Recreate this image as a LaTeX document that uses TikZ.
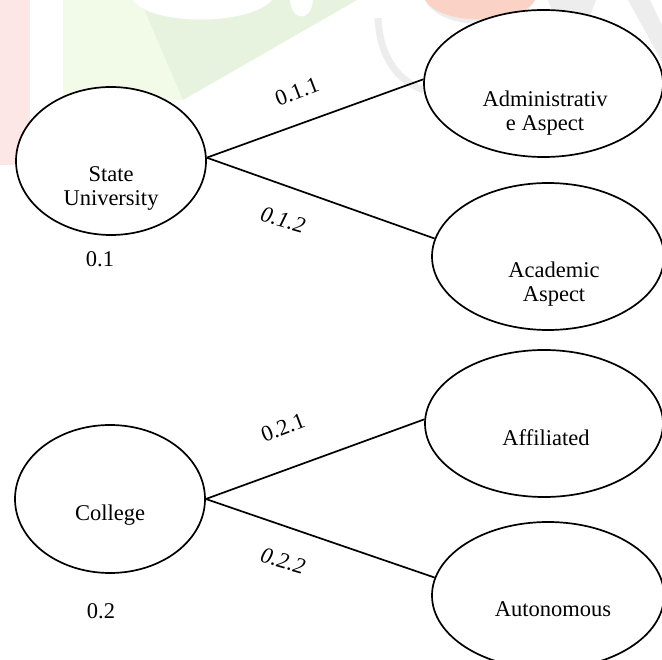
\documentclass[tikz,border=0pt]{standalone}
\usepackage{fontspec}
\setmainfont{Liberation Serif}
\usetikzlibrary{shapes.geometric}
\definecolor{wmpink}{HTML}{FDE6E6}
\definecolor{wmgreenA}{HTML}{F2FAE8}
\definecolor{wmgreenB}{HTML}{E8F3DF}
\definecolor{wmsalmon}{HTML}{FBD2C6}
\definecolor{wmgrey}{HTML}{EDEDED}
\begin{document}
\begin{tikzpicture}[x=1pt,y=-1pt,
  oval/.style={ellipse, draw, line width=1.7pt, fill=white, inner sep=0pt},
  txt/.style={font=\fontsize{22.5}{24}\selectfont, inner sep=0pt, align=center},
  link/.style={line width=1.7pt},
]
\useasboundingbox (0,0) rectangle (662,660);

% faint logo in the background
\fill[wmpink] (0,0) rectangle (30,165);
\fill[wmgreenA] (63,0) -- (140,0) -- (183,100) -- (63,100) -- cycle;
\fill[wmgreenB] (140,0) -- (357,0) -- (183,100) -- cycle;
\fill[white] (133,0) .. controls (150,26) and (250,26) .. (272,0) -- cycle;
\fill[white] (290,0) .. controls (292,22) and (311,22) .. (313,0) -- cycle;
\draw[wmgrey, line width=7pt] (378,18) .. controls (380,60) and (400,82) .. (424,90);
\fill[wmgrey] (425,0) .. controls (440,32) and (520,32) .. (535,0) -- cycle;
\fill[wmsalmon] (425,0) .. controls (440,26) and (520,26) .. (535,0) -- cycle;
\fill[wmgrey] (548,0) -- (596,0) -- (590,16) -- (554,16) -- cycle;
\fill[wmgrey] (628,0) -- (650,0) -- (662,25) -- (662,62) -- cycle;

% ovals
\node[oval, minimum width=190, minimum height=148] (su)  at (111,161) {};
\node[oval, minimum width=239, minimum height=147] (adm) at (543.5,83.5) {};
\node[oval, minimum width=232, minimum height=147] (aca) at (548,256.5) {};
\node[oval, minimum width=190, minimum height=148] (col) at (110,499) {};
\node[oval, minimum width=238, minimum height=147] (aff) at (544,423.5) {};
\node[oval, minimum width=232, minimum height=147] (aut) at (548,595.5) {};

% oval texts
\node[txt] (tsu)  at (111,188) {State\\University};
\node[txt] (tadm) at (545,113) {Administrativ\\e Aspect};
\node[txt] (taca) at (554,284) {Academic\\Aspect};
\node[txt, anchor=base] (tcol) at (110,520) {College};
\node[txt, anchor=base] (taff) at (546,446) {Affiliated};
\node[txt, anchor=base] (taut) at (553,616) {Autonomous};

% numbers under the left ovals
\node[txt, anchor=base] (nsu)  at (100,267) {0.1};
\node[txt, anchor=base] (ncol) at (101,618) {0.2};

% connectors
\draw[link] (su.2) -- (adm.178);
\draw[link] (su.2) -- (aca.171);
\draw[link] (col.east) -- (aff.178);
\draw[link] (col.east) -- (aut.171);

% connector labels
\node[txt, rotate=21]  (l11) at (297,92)  {0.1.1};
\node[txt, rotate=-16] (l12) at (283,220) {\itshape 0.1.2};
\node[txt, rotate=21]  (l21) at (283,428) {0.2.1};
\node[txt, rotate=-16] (l22) at (283,561) {\itshape 0.2.2};
\end{tikzpicture}
\end{document}
